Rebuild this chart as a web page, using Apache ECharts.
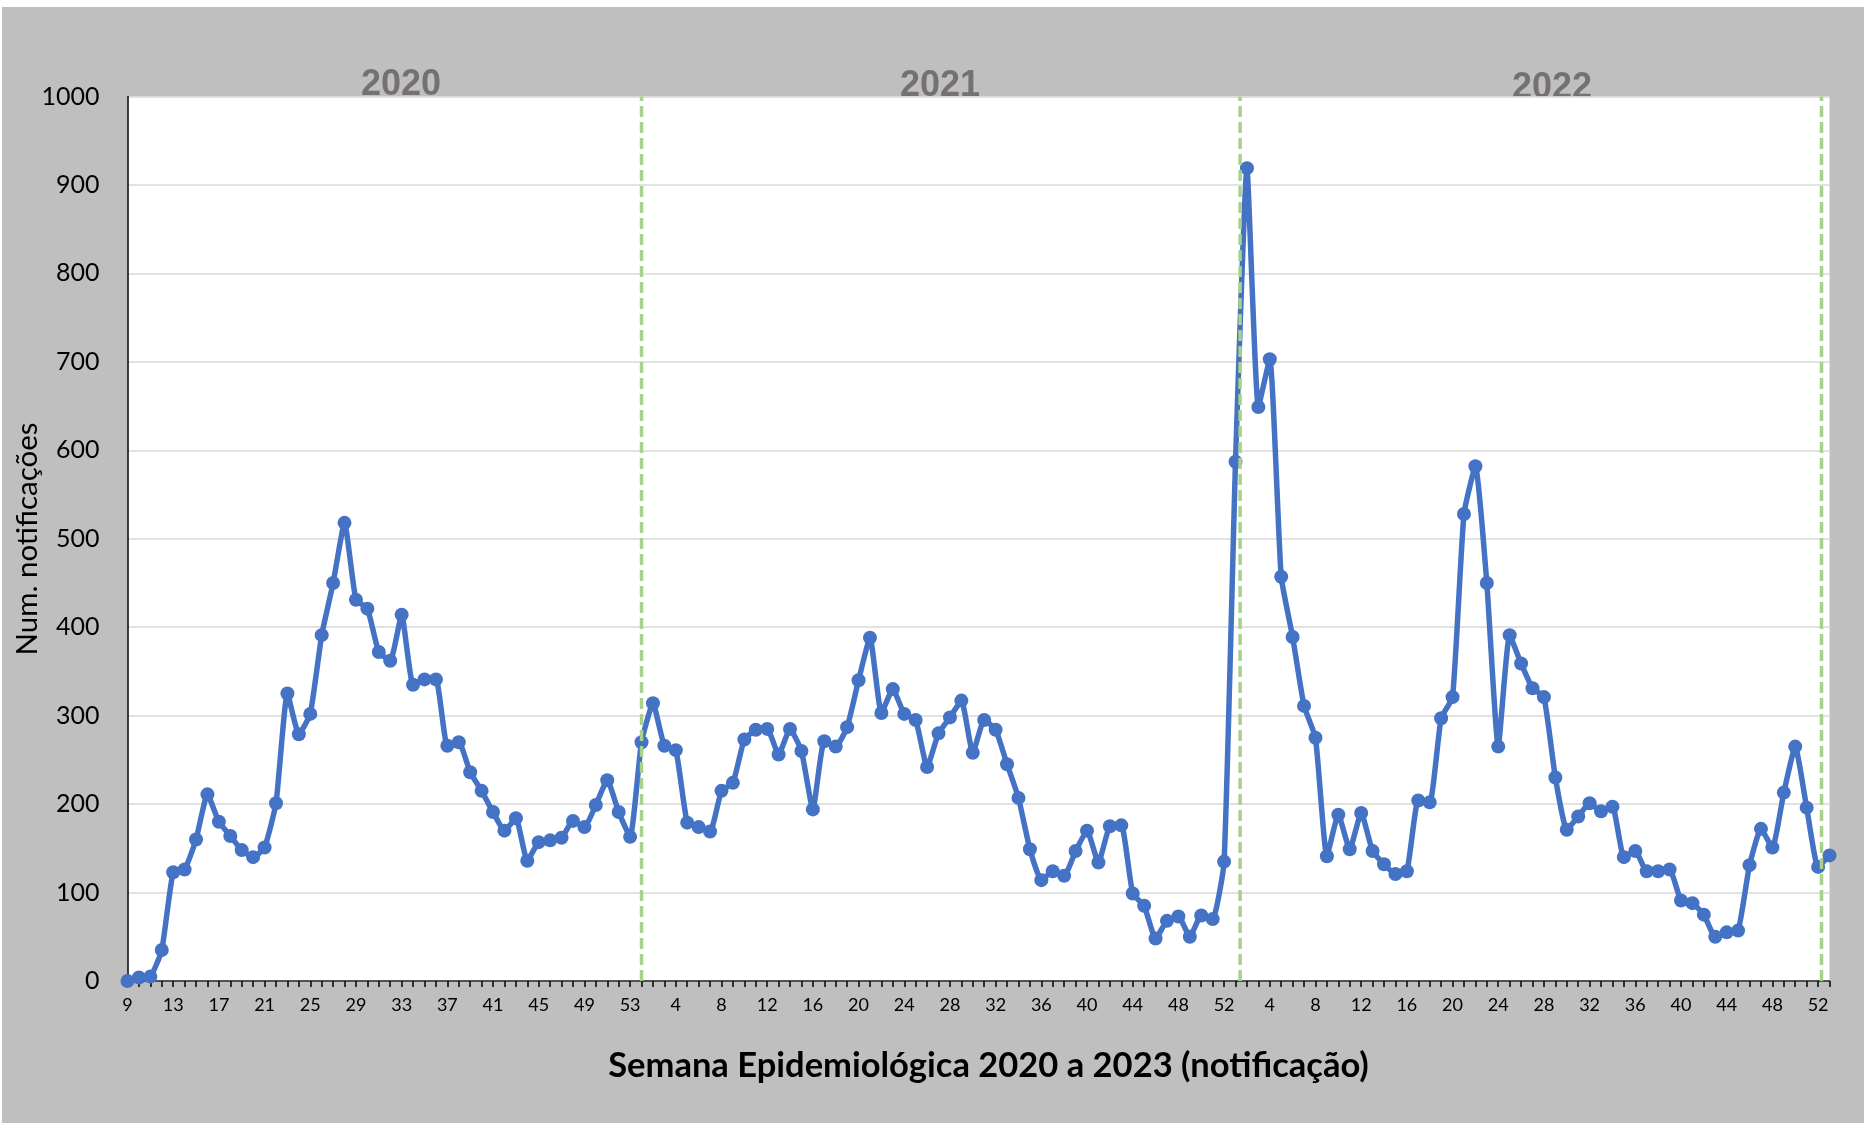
<!DOCTYPE html>
<html>
<head>
<meta charset="utf-8">
<script src="https://cdn.jsdelivr.net/npm/echarts@6/dist/echarts.min.js"></script>
<style>
html,body{margin:0;padding:0;background:#fff;width:1864px;height:1123px;overflow:hidden;}
#chart{position:absolute;left:2px;top:7px;width:1862px;height:1116px;background:#BFBFBF;}
</style>
</head>
<body>
<div id="chart"></div>
<script>
// Week labels (tick labels) per year
const weeks2020 = ['9','10','11','12','13','14','15','16','17','18','19','20','21','22','23','24','25','26','27','28','29','30','31','32','33','34','35','36','37','38','39','40','41','42','43','44','45','46','47','48','49','50','51','52','53'];
const weeks2021 = ['1','2','3','4','5','6','7','8','9','10','11','12','13','14','15','16','17','18','19','20','21','22','23','24','25','26','27','28','29','30','31','32','33','34','35','36','37','38','39','40','41','42','43','44','45','46','47','48','49','50','51','52'];
const weeks2022 = ['1','2','3','4','5','6','7','8','9','10','11','12','13','14','15','16','17','18','19','20','21','22','23','24','25','26','27','28','29','30','31','32','33','34','35','36','37','38','39','40','41','42','43','44','45','46','47','48','49','50','51','52'];
const weeks2023 = ['1'];

// Notifications per epidemiological week
const values2020 = [0,4,5,35,123,126,160,211,180,164,148,140,151,201,325,279,302,391,450,518,431,421,372,362,414,335,341,341,266,270,236,215,191,170,184,136,157,159,162,181,174,199,227,191,163];
const values2021 = [270,314,266,261,179,174,169,215,224,273,284,285,256,285,260,194,271,265,287,340,388,303,330,302,295,242,280,298,317,258,295,284,245,207,149,114,124,119,147,170,134,175,176,99,85,48,68,73,50,74,70,135];
const values2022 = [587,919,649,703,457,389,311,275,141,188,149,190,147,132,121,124,204,202,297,321,528,582,450,265,391,359,331,321,230,171,186,201,192,197,140,147,124,124,126,91,88,75,50,55,57,131,172,151,213,265,196,129];
const values2023 = [142];

// Year separators (position in week-index units) and year headers
const yearBoundaries = [45, 97.4, 148.3];
const yearNames = ['2020','2021','2022'];

const categories = [].concat(weeks2020, weeks2021, weeks2022, weeks2023);
const values = [].concat(values2020, values2021, values2022, values2023);

const chart = echarts.init(document.getElementById('chart'), null, {renderer:'canvas'});

const sepSeries = yearBoundaries.map(function(b){
  return {
    type:'line', xAxisIndex:1, yAxisIndex:0, silent:true, symbol:'none', z:5,
    data:[[b,0],[b,1000]],
    lineStyle:{color:'#A9D18E', width:3.5, type:[11,5]}
  };
});

const yearPos = [[399, 78], [938, 79], [1550, 81]];
const yearGraphics = yearNames.map(function(n, i){
  return {type:'text', x: yearPos[i][0], y: yearPos[i][1], z:-1, zlevel:0,
    style:{text:n, fill:'#767171', font:'bold 36px "Liberation Sans", Arial, sans-serif',
      textAlign:'center', textVerticalAlign:'middle'}};
});

chart.setOption({
  animation:false,
  backgroundColor:'#BFBFBF',
  grid:{left:125.5, top:89.5, right:34.5, bottom:142, show:true, backgroundColor:'#ffffff', borderWidth:0,
        containLabel:false, outerBoundsMode:'none'},
  xAxis:[{
    type:'category', data:categories, boundaryGap:false,
    axisLine:{show:true, lineStyle:{color:'#262626', width:1.5}},
    axisTick:{show:true, interval:0, length:6, lineStyle:{color:'#000', width:1.5}},
    axisLabel:{interval:3, fontSize:18, color:'#000', margin:15, fontFamily:'Lato'},
    splitLine:{show:false}
  },{
    type:'value', min:0, max:categories.length-1, show:false
  }],
  yAxis:[{
    type:'value', min:0, max:1000, interval:100,
    axisLine:{show:true, lineStyle:{color:'#000', width:1.5}},
    axisTick:{show:false},
    axisLabel:{fontSize:25, color:'#000', margin:28, fontFamily:'Lato',
      formatter:function(v){return String(v);}},
    splitLine:{show:true, lineStyle:{color:'#D9D9D9', width:1.5}}
  }],
  graphic: yearGraphics.concat([{
    type:'text', x:986.5, y:1059, z:10,
    style:{text:'Semana Epidemiológica 2020 a 2023 (notificação)', fill:'#000',
      font:'bold 34.5px Lato, sans-serif', textAlign:'center', textVerticalAlign:'middle'}
  },{
    type:'text', x:25, y:532, rotation:Math.PI/2, z:10,
    style:{text:'Num. notificações', fill:'#000',
      font:'29.5px Lato, sans-serif', textAlign:'center', textVerticalAlign:'middle'}
  }]),
  series:[{
    type:'line', data:values, smooth:0.15, z:3,
    symbol:'circle', symbolSize:14, showSymbol:true, showAllSymbol:true,
    lineStyle:{color:'#4472C4', width:5.5},
    itemStyle:{color:'#4472C4'}
  }].concat(sepSeries)
});
</script>
</body>
</html>
